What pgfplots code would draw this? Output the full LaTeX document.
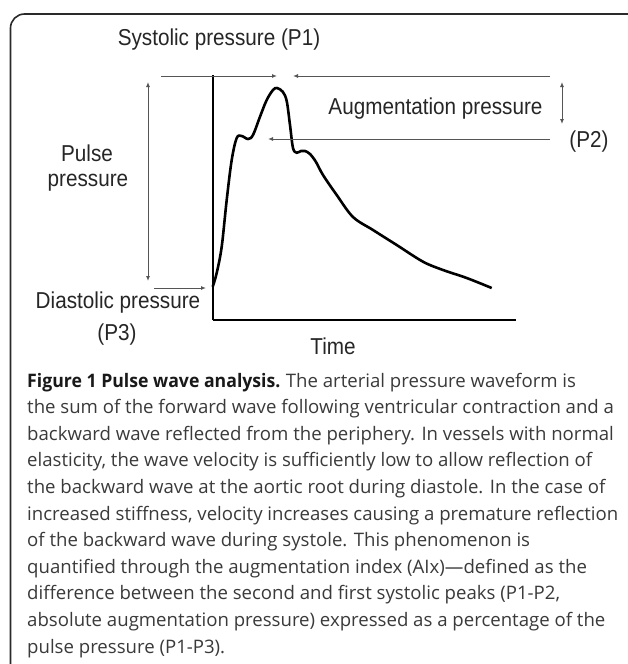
\documentclass[border=0pt]{standalone}
\usepackage{pgfplots}
\pgfplotsset{compat=1.18}
\usepackage{fontspec}
\setmainfont{Open Sans}
\newfontfamily\arial{Liberation Sans}
\usetikzlibrary{arrows.meta}
\definecolor{capgray}{HTML}{3A3A3A}
\definecolor{arrgray}{HTML}{555555}
\definecolor{framegray}{HTML}{2A2A2A}
\newcommand\lab[1]{\scalebox{0.9}[1]{\arial\fontsize{23bp}{27bp}\selectfont #1}}
\begin{document}
\begin{tikzpicture}
\path[use as bounding box, clip] (0,0) rectangle (628bp,-664bp);
\fill[white] (0,0) rectangle (628bp,-664bp);
\begin{axis}[at={(213bp,-320bp)}, anchor=south west,
  width=303bp, height=245bp, scale only axis,
  xmin=213, xmax=516, ymin=-320, ymax=-75,
  axis lines=left, axis line style={-, line width=1.8bp, black},
  ticks=none, clip=false]
\addplot[smooth, tension=0.55, line width=2.6bp, black] coordinates {
(212.7,-286.7) (216.7,-273) (221.7,-246.7) (226.7,-200) (231.7,-160)
(236.7,-138) (241.7,-136) (248,-139) (253,-135) (260,-116.7)
(266.7,-100) (273,-90) (277,-88) (282.7,-91.7) (286.7,-101)
(290,-125) (293,-148) (296.7,-152.7) (301,-151) (305,-151)
(310,-154) (316,-162) (323,-175) (336.7,-195) (353,-217)
(373,-230) (396.7,-245) (423,-261.7) (443,-270) (466.7,-278) (491.7,-288)
};
\end{axis}
\begin{scope}[x=1bp,y=-1bp]
\draw[framegray, line width=1.6bp] (10.5,680) -- (10.5,28) arc[start angle=180, end angle=270, radius=14] -- (650,14);
\tikzset{arr/.style={arrgray, line width=1bp, -{Latex[length=5bp,width=4bp]}},
         darr/.style={arrgray, line width=1bp, {Latex[length=5bp,width=4bp]}-{Latex[length=5bp,width=4bp]}}}
\draw[arr] (161,76) -- (277,76);
\draw[arr] (550,76) -- (293,76);
\draw[arr] (550,139) -- (268,139);
\draw[darr] (562,82) -- (562,124);
\draw[darr] (148,82) -- (148,281);
\draw[arr] (154,288) -- (206,288);
\node[text=black!85] at (219,40) {\lab{Systolic pressure (P1)}};
\node[text=black!85] at (435.5,109) {\lab{Augmentation pressure}};
\node[text=black!85] at (589,142) {\lab{(P2)}};
\node[text=black!85] at (87,153) {\lab{Pulse}};
\node[text=black!85] at (88,183) {\lab{pressure}};
\node[text=black!85] at (118,303) {\lab{Diastolic pressure}};
\node[text=black!85] at (117,335) {\lab{(P3)}};
\node[text=black!85] at (333,346) {\lab{Time}};
\tikzset{capt/.style={anchor=base west, inner sep=0pt, text=capgray, font=\fontsize{18.6bp}{22bp}\selectfont}}
\node[capt] at (27,387) {\scalebox{0.95}[1]{\textbf{\color{black!90}Figure 1 Pulse wave analysis.}}\hspace{0.6bp} The arterial pressure waveform is};
\node[capt] at (27,413.6) {the sum of the forward wave following ventricular contraction and a};
\node[capt] at (27,440.2) {backward wave reflected from the periphery. In vessels with normal};
\node[capt] at (27,466.8) {elasticity, the wave velocity is sufficiently low to allow reflection of};
\node[capt] at (27,493.4) {the backward wave at the aortic root during diastole. In the case of};
\node[capt] at (27,520) {increased stiffness, velocity increases causing a premature reflection};
\node[capt] at (27,546.6) {of the backward wave during systole. This phenomenon is};
\node[capt] at (27,573.2) {quantified through the augmentation index (AIx)—defined as the};
\node[capt] at (27,599.8) {difference between the second and first systolic peaks (P1-P2,};
\node[capt] at (27,626.4) {absolute augmentation pressure) expressed as a percentage of the};
\node[capt] at (27,653) {pulse pressure (P1-P3).};
\end{scope}
\end{tikzpicture}
\end{document}
